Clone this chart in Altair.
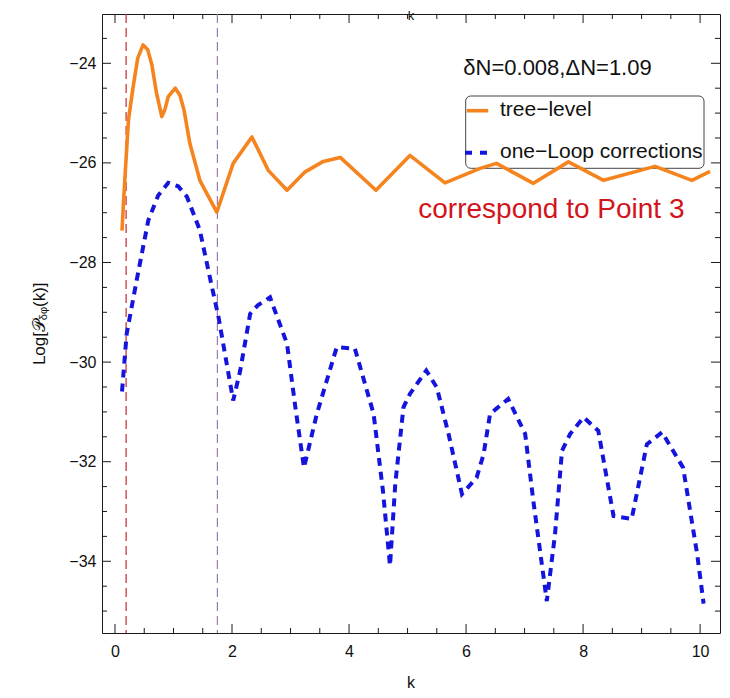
import altair as alt
import pandas as pd

# ---------------- data ----------------
K_TREE = [0.12, 0.15, 0.18, 0.23, 0.31, 0.39, 0.48, 0.56, 0.63, 0.71, 0.80, 0.85,
          0.91, 1.03, 1.11, 1.18, 1.28, 1.37, 1.45, 1.74, 2.02, 2.34, 2.62, 2.94,
          3.25, 3.56, 3.85, 4.46, 5.04, 5.64, 6.24, 6.52, 7.15, 7.75, 8.35, 9.23,
          9.86, 10.17]
V_TREE = [-27.36, -26.70, -26.10, -25.14, -24.47, -23.89, -23.63, -23.73, -24.03,
          -24.60, -25.07, -24.94, -24.67, -24.50, -24.64, -24.94, -25.61, -26.00,
          -26.35, -26.99, -26.01, -25.48, -26.15, -26.55, -26.18, -25.97, -25.89,
          -26.55, -25.85, -26.40, -26.11, -26.01, -26.41, -25.98, -26.35, -26.07,
          -26.35, -26.17]

K_LOOP = [0.12, 0.20, 0.37, 0.57, 0.74, 0.91, 1.08, 1.23, 1.45, 1.62, 1.77, 1.90,
          2.02, 2.14, 2.31, 2.44, 2.65, 2.94, 3.09, 3.23, 3.45, 3.79, 4.10, 4.42,
          4.58, 4.70, 4.79, 4.93, 5.04, 5.32, 5.50, 5.70, 5.93, 6.18, 6.30, 6.41,
          6.72, 7.01, 7.15, 7.38, 7.52, 7.64, 7.78, 8.01, 8.26, 8.52, 8.83, 9.09,
          9.35, 9.71, 9.83, 9.95, 10.06]
V_LOOP = [-30.59, -29.43, -28.36, -27.15, -26.65, -26.40, -26.47, -26.68, -27.35,
          -28.29, -29.10, -29.97, -30.77, -30.17, -29.03, -28.86, -28.70, -29.63,
          -30.97, -32.12, -31.04, -29.70, -29.73, -31.04, -32.59, -34.09, -32.45,
          -30.91, -30.64, -30.17, -30.51, -31.44, -32.65, -32.32, -31.85, -31.04,
          -30.74, -31.44, -32.79, -34.80, -33.46, -31.78, -31.44, -31.11, -31.38,
          -33.09, -33.15, -31.65, -31.41, -32.12, -32.99, -33.86, -34.85]

VLINE_K = [0.19, 1.75]
VLINE_NAME = ["red", "purple"]
VLINE_COLOR = ["#c02a2e", "#9a7bb8"]

X_MAJOR = [0, 2, 4, 6, 8, 10]
X_MINOR = [0.5, 1, 1.5, 2.5, 3, 3.5, 4.5, 5, 5.5, 6.5, 7, 7.5, 8.5, 9, 9.5]
Y_MAJOR = [-34, -32, -30, -28, -26, -24]
Y_MINOR = [-35, -34.5, -33.5, -33, -32.5, -31.5, -31, -30.5, -29.5, -29, -28.5,
           -27.5, -27, -26.5, -25.5, -25, -24.5, -23.5]

SERIES_NAMES = ["tree\u2212level", "one\u2212Loop corrections"]
PARAM_TEXT = "\u03b4N=0.008,\u0394N=1.09"
NOTE_TEXT = "correspond to Point 3"
X_TITLE = "k"
Y_TITLE_PARTS = ["Log[\U0001D4AB", "\u03b4\u03c6", "(k)]"]

# ---------------- layout ----------------
W, H = 618, 619
FONT = "Liberation Sans"
FRAME = "#1a1a1a"
ORANGE = "#f5841f"
BLUE = "#1414dc"

xs = alt.Scale(domain=[-0.222, 10.34], nice=False, zero=False)
ys = alt.Scale(domain=[-35.44, -23.01], nice=False, zero=False)

tree_df = pd.DataFrame({"k": K_TREE, "v": V_TREE})
loop_df = pd.DataFrame({"k": K_LOOP, "v": V_LOOP})
vl_df = pd.DataFrame({"k": VLINE_K, "name": VLINE_NAME})

x_axis = alt.Axis(values=X_MAJOR, ticks=False, tickSize=0, domain=False, grid=False,
                  labelFontSize=16, labelFont=FONT, labelColor="#111",
                  labelPadding=10, title=None)
y_axis = alt.Axis(values=Y_MAJOR, ticks=False, tickSize=0, domain=False, grid=False,
                  labelFontSize=16, labelFont=FONT, labelColor="#111",
                  labelPadding=6, title=None)


def X(field):
    return alt.X(field, scale=xs, axis=x_axis)


def Y(field):
    return alt.Y(field, scale=ys, axis=y_axis)


tree = alt.Chart(tree_df).mark_line(color=ORANGE, strokeWidth=3.6, strokeJoin="round",
                                    clip=True).encode(x=X("k:Q"), y=Y("v:Q"))
loop = alt.Chart(loop_df).mark_line(color=BLUE, strokeWidth=4, strokeDash=[8, 6],
                                    strokeCap="butt", clip=True).encode(
    x=X("k:Q"), y=Y("v:Q"))

vlines = alt.Chart(vl_df).mark_rule(strokeWidth=1.2, strokeDash=[9, 5]).encode(
    x=X("k:Q"),
    color=alt.Color("name:N", scale=alt.Scale(domain=VLINE_NAME, range=VLINE_COLOR),
                    legend=None),
)


def xticks(values, length):
    df = pd.DataFrame({"k": values})
    bot = alt.Chart(df).mark_rule(color=FRAME, strokeWidth=1).encode(
        x=X("k:Q"), y=alt.value(H), y2=alt.value(H - length))
    top = alt.Chart(df).mark_rule(color=FRAME, strokeWidth=1).encode(
        x=X("k:Q"), y=alt.value(0), y2=alt.value(length))
    return [bot, top]


def yticks(values, length):
    df = pd.DataFrame({"v": values})
    left = alt.Chart(df).mark_rule(color=FRAME, strokeWidth=1).encode(
        y=Y("v:Q"), x=alt.value(0), x2=alt.value(length))
    right = alt.Chart(df).mark_rule(color=FRAME, strokeWidth=1).encode(
        y=Y("v:Q"), x=alt.value(W), x2=alt.value(W - length))
    return [left, right]


def label(text, x, y, size, color="#111", align="left", angle=0, baseline="middle"):
    return alt.Chart(pd.DataFrame({"t": [text]})).mark_text(
        align=align, baseline=baseline, fontSize=size, color=color, angle=angle,
        font=FONT).encode(text="t:N", x=alt.value(x), y=alt.value(y))


one = pd.DataFrame({"a": [0]})
legend_box = alt.Chart(one).mark_rect(fill="white", stroke="#444", strokeWidth=1,
                                      cornerRadius=5).encode(
    x=alt.value(363.7), x2=alt.value(602), y=alt.value(82), y2=alt.value(154.3))
leg_orange = alt.Chart(one).mark_rule(color=ORANGE, strokeWidth=3.6).encode(
    x=alt.value(364.7), x2=alt.value(386.3), y=alt.value(96.7))
leg_blue = alt.Chart(one).mark_rule(color=BLUE, strokeWidth=4, strokeDash=[7, 8]).encode(
    x=alt.value(363), x2=alt.value(386.3), y=alt.value(138.7))

texts = [
    label(SERIES_NAMES[0], 398, 96, 21),
    label(SERIES_NAMES[1], 398, 138, 21),
    label(PARAM_TEXT, 361.3, 54, 22),
    label(NOTE_TEXT, 316.3, 196, 28, color="#d2141c"),
    label(X_TITLE, W / 2, -4, 13, align="center", baseline="top"),
    label(X_TITLE, W / 2, H + 50, 16, align="center"),
    label(Y_TITLE_PARTS[0], -62, 306, 17, align="right", angle=270),
    label(Y_TITLE_PARTS[1], -58, 299.5, 11, align="center", angle=270),
    label(Y_TITLE_PARTS[2], -62, 293, 17, align="left", angle=270),
]

layers = ([vlines, legend_box, tree, loop, leg_orange, leg_blue]
          + xticks(X_MAJOR, 9) + xticks(X_MINOR, 5)
          + yticks(Y_MAJOR, 9) + yticks(Y_MINOR, 5)
          + texts)

chart = alt.layer(*layers).properties(
    width=W, height=H,
    padding={"left": 94, "top": 6, "right": 2, "bottom": 57},
    autosize=alt.AutoSizeParams(type="none"),
    background="white",
).configure_view(stroke=FRAME, strokeWidth=1)

chart.save("out.html", embed_options={"renderer": "svg", "actions": False})
